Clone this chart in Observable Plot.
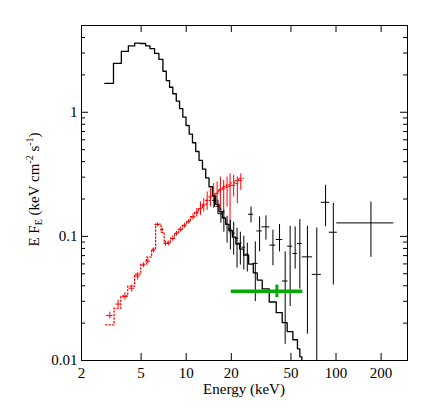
<!DOCTYPE html>
<html><head><meta charset="utf-8">
<script src="https://cdn.jsdelivr.net/npm/d3@7"></script>
<script src="https://cdn.jsdelivr.net/npm/@observablehq/plot@0.6"></script>
<style>body{margin:0;background:#fff}</style>
</head><body><div id="chart"></div>
<script>
// Axis ticks
const xTicks = [2, 5, 10, 20, 50, 100, 200];
const yTicks = [0.01, 0.1, 1];
const yMinor = [0.02,0.03,0.04,0.05,0.06,0.07,0.08,0.09,0.2,0.3,0.4,0.5,0.6,0.7,0.8,0.9,2,3,4];

// Black model (histogram): bin edges (keV) and E F_E per bin
const blackModelE = [2.86,3.27,3.69,4.11,4.53,4.91,5.36,5.73,6.15,6.57,6.99,7.36,7.74,8.14,8.58,9.03,9.49,
  9.97,10.47,11.01,11.58,12.18,12.84,13.50,14.20,14.96,15.74,16.55,17.44,18.34,19.29,20.33,21.45,22.73,24.17,
  26.10,28.04,29.81,32.18,35.83,39.89,43.72,47.21,51.51,55.27,57.34,59.14,62];
const blackModelF = [1.71,2.48,3.09,3.42,3.61,3.58,3.43,3.25,2.98,2.67,2.14,1.80,1.59,1.41,1.23,1.07,
  0.915,0.782,0.667,0.568,0.483,0.410,0.348,0.296,0.251,0.213,0.181,0.158,0.1405,0.125,0.111,0.0985,0.0868,0.079,
  0.0706,0.0598,0.0509,0.0445,0.0377,0.0296,0.0243,0.0202,0.0171,0.0147,0.0124,0.0107,0.004];

// Red model (dotted histogram)
const redModelE = [2.90,3.30,3.66,4.07,4.53,4.97,5.44,5.88,6.25,6.80,7.12,7.51,7.86,8.36,8.89,9.45,10.05,10.68,11.36,12.07,12.84,13.65,14.51,15.43,16.40,17.44,18.54,19.71,20.96,22.28,24.06];
const redModelF = [0.0194,0.0264,0.0331,0.0398,0.0497,0.0598,0.0681,0.0789,0.1256,0.108,0.0882,0.0898,0.0967,0.1061,0.1143,0.123,0.1325,0.1439,0.1564,0.1684,0.1814,0.1953,0.2103,0.2223,0.2393,0.253,0.2597,0.27,0.2802,0.2935];

// Red data crosses
const redE   = [3.09,3.51,3.90,4.33,4.74,5.18,5.55,6.06,6.44,6.92,7.28,7.66,8.14,8.62,9.17,9.74,10.41,11.10,11.76,12.45,13.10,13.80,14.51,15.26,16.08,16.91,17.79,18.74,19.62,20.74,21.94,23.15];
const redElo = [2.94,3.39,3.75,4.15,4.55,5.02,5.36,5.88,6.18,6.75,7.10,7.48,7.86,8.42,8.85,9.41,10.05,10.73,11.44,12.07,12.78,13.44,14.14,14.89,15.66,16.48,17.36,18.26,19.20,20.01,21.38,22.52];
const redEhi = [3.25,3.66,4.09,4.53,4.94,5.36,5.79,6.25,6.68,7.10,7.48,7.86,8.42,8.85,9.41,10.05,10.73,11.44,12.07,12.78,13.44,14.14,14.89,15.66,16.48,17.36,18.26,19.20,20.01,21.38,22.52,23.87];
const redF   = [0.0230,0.0285,0.0327,0.0382,0.0479,0.0587,0.0632,0.0775,0.1246,0.1136,0.0877,0.0877,0.0961,0.1055,0.1132,0.1219,0.1312,0.1434,0.1544,0.1675,0.1781,0.1953,0.2077,0.2143,0.2212,0.2350,0.2425,0.2497,0.2530,0.2578,0.2660,0.2827];
const redFlo = [0.0216,0.0267,0.0307,0.0356,0.0445,0.0559,0.0604,0.0737,0.1193,0.1101,0.0834,0.0834,0.0915,0.1004,0.1080,0.1164,0.1253,0.1349,0.1434,0.1480,0.1573,0.1623,0.1726,0.1675,0.1837,0.1623,0.1527,0.1726,0.1055,0.2077,0.1837,0.2350];
const redFhi = [0.0245,0.0307,0.0352,0.0406,0.0509,0.0612,0.0662,0.0808,0.1284,0.1170,0.0920,0.0920,0.1004,0.1101,0.1186,0.1276,0.1375,0.1522,0.1675,0.1893,0.2016,0.2277,0.2425,0.2660,0.2741,0.3005,0.2827,0.3005,0.3200,0.3101,0.3005,0.3189];

// Black data crosses
const blkE   = [15.43,16.28,17.04,17.84,18.74,19.71,20.74,21.84,22.98,24.24,25.58,27.07,28.92,30.89,34.07,37.93,41.96,45.79,49.41,53.36,57.35,64.43,74.40,85.14,95.94,171.0];
const blkElo = [14.96,15.79,16.40,17.39,18.26,19.20,20.20,21.28,22.36,23.58,24.90,26.06,27.70,29.63,32.04,36.23,39.89,43.85,47.57,51.51,55.36,59.49,69.46,79.71,90.24,101.1];
const blkEhi = [15.91,16.78,17.71,18.32,19.23,20.23,21.28,22.42,23.62,24.92,26.30,28.13,30.18,32.19,36.23,39.71,44.12,47.78,51.36,55.27,59.39,69.78,79.71,90.92,102.0,243.1];
const blkF   = [0.1953,0.1748,0.1522,0.1426,0.1253,0.1143,0.1061,0.0967,0.0882,0.0819,0.0719,0.1508,0.0606,0.1107,0.1193,0.0850,0.0944,0.0437,0.0834,0.0729,0.0877,0.0684,0.0494,0.1883,0.1080,0.1284];
const blkFlo = [0.1716,0.1508,0.1276,0.1080,0.0882,0.0775,0.0706,0.0555,0.0587,0.0535,0.0516,0.1284,0.0298,0.0751,0.0932,0.0580,0.0751,0.0135,0.0272,0.0545,0.0377,0.0163,0.005,0.1197,0.0405,0.0677];
const blkFhi = [0.2143,0.1953,0.1684,0.1623,0.1453,0.1349,0.1300,0.1164,0.1080,0.1004,0.0882,0.1726,0.0903,0.1434,0.1462,0.1122,0.1246,0.0751,0.1208,0.1193,0.1367,0.1208,0.1170,0.2578,0.1848,0.1893];

// Green point
const greenE = [40.3], greenElo = [20], greenEhi = [60];
const greenF = [0.0361], greenFlo = [0.0321], greenFhi = [0.0405];

const W = 432, H = 412, mL = 81, mR = 25, mT = 25, mB = 52;
const pW = W - mL - mR, pH = H - mT - mB;

const steps = (E, F) => E.map((e, i) => ({E: e, F: F[Math.min(i, F.length - 1)]}));
const crosses = (E, Elo, Ehi, F, Flo, Fhi) => E.map((e, i) => ({E: e, Elo: Elo[i], Ehi: Ehi[i], F: F[i], Flo: Flo[i], Fhi: Fhi[i]}));

const blackModel = steps(blackModelE, blackModelF);
const redModel = steps(redModelE, redModelF);
const redData = crosses(redE, redElo, redEhi, redF, redFlo, redFhi);
const blkData = crosses(blkE, blkElo, blkEhi, blkF, blkFlo, blkFhi);
const greenData = crosses(greenE, greenElo, greenEhi, greenF, greenFlo, greenFhi);

const MAJ = 7, MIN = 4;

const plot = Plot.plot({
  width: W, height: H,
  marginLeft: mL, marginRight: mR, marginTop: mT, marginBottom: mB,
  style: {fontFamily: "'Liberation Serif', 'DejaVu Serif', serif", fontSize: "15px", background: "#fff", color: "#000"},
  x: {type: "log", domain: [2, 300]},
  y: {type: "log", domain: [0.01, 5]},
  marks: [
    // red model dotted
    Plot.line(redModel, {x: "E", y: "F", curve: "step-after", stroke: "#ff0000", strokeWidth: 1.3, strokeDasharray: "1.3,2.2", clip: true}),
    // red crosses
    Plot.ruleY(redData, {y: "F", x1: "Elo", x2: "Ehi", stroke: "#ff0000", strokeWidth: 1, clip: true}),
    Plot.ruleX(redData, {x: "E", y1: "Flo", y2: "Fhi", stroke: "#ff0000", strokeWidth: 1, clip: true}),
    // black crosses
    Plot.ruleY(blkData, {y: "F", x1: "Elo", x2: "Ehi", stroke: "#000", strokeWidth: 1, clip: true}),
    Plot.ruleX(blkData, {x: "E", y1: "Flo", y2: "Fhi", stroke: "#000", strokeWidth: 1, clip: true}),
    // black model
    Plot.line(blackModel, {x: "E", y: "F", curve: "step-after", stroke: "#000", strokeWidth: 1.3, clip: true}),
    // green
    Plot.ruleY(greenData, {y: "F", x1: "Elo", x2: "Ehi", stroke: "#00aa00", strokeWidth: 3.5}),
    Plot.ruleX(greenData, {x: "E", y1: "Flo", y2: "Fhi", stroke: "#00aa00", strokeWidth: 3}),
    // inward ticks
    Plot.ruleX(xTicks, {x: d => d, insetTop: pH - MAJ, stroke: "#000"}),
    Plot.ruleX(xTicks, {x: d => d, insetBottom: pH - MAJ, stroke: "#000"}),
    Plot.ruleY(yTicks, {y: d => d, insetRight: pW - MAJ, stroke: "#000"}),
    Plot.ruleY(yTicks, {y: d => d, insetLeft: pW - MAJ, stroke: "#000"}),
    Plot.ruleY(yMinor, {y: d => d, insetRight: pW - MIN, stroke: "#000"}),
    Plot.ruleY(yMinor, {y: d => d, insetLeft: pW - MIN, stroke: "#000"}),
    Plot.frame({stroke: "#000", strokeWidth: 1}),
    Plot.axisX({ticks: xTicks, tickSize: 0, tickPadding: 7, tickFormat: d => String(d), label: null}),
    Plot.axisY({ticks: yTicks, tickSize: 0, tickPadding: 4, tickFormat: d => String(d), label: null})
  ]
});

const svg = d3.select(plot);
svg.selectAll("text").attr("fill", "#000");
// x title
svg.append("text")
  .attr("x", mL + pW / 2).attr("y", 394)
  .attr("text-anchor", "middle")
  .attr("font-size", 15).attr("fill", "#000")
  .text("Energy (keV)");
// y title with sub/superscripts
const yt = svg.append("text")
  .attr("transform", `translate(39,${mT + pH / 2 - 3}) rotate(-90)`)
  .attr("text-anchor", "middle")
  .attr("font-size", 15).attr("fill", "#000");
yt.append("tspan").text("E F");
yt.append("tspan").attr("font-size", 10).attr("dy", 3).text("E");
yt.append("tspan").attr("dy", -3).text(" (keV cm");
yt.append("tspan").attr("font-size", 10).attr("dy", -6).text("-2");
yt.append("tspan").attr("dy", 6).text(" s");
yt.append("tspan").attr("font-size", 10).attr("dy", -6).text("-1");
yt.append("tspan").attr("dy", 6).text(")");

document.getElementById("chart").append(plot);
</script>
</body></html>
